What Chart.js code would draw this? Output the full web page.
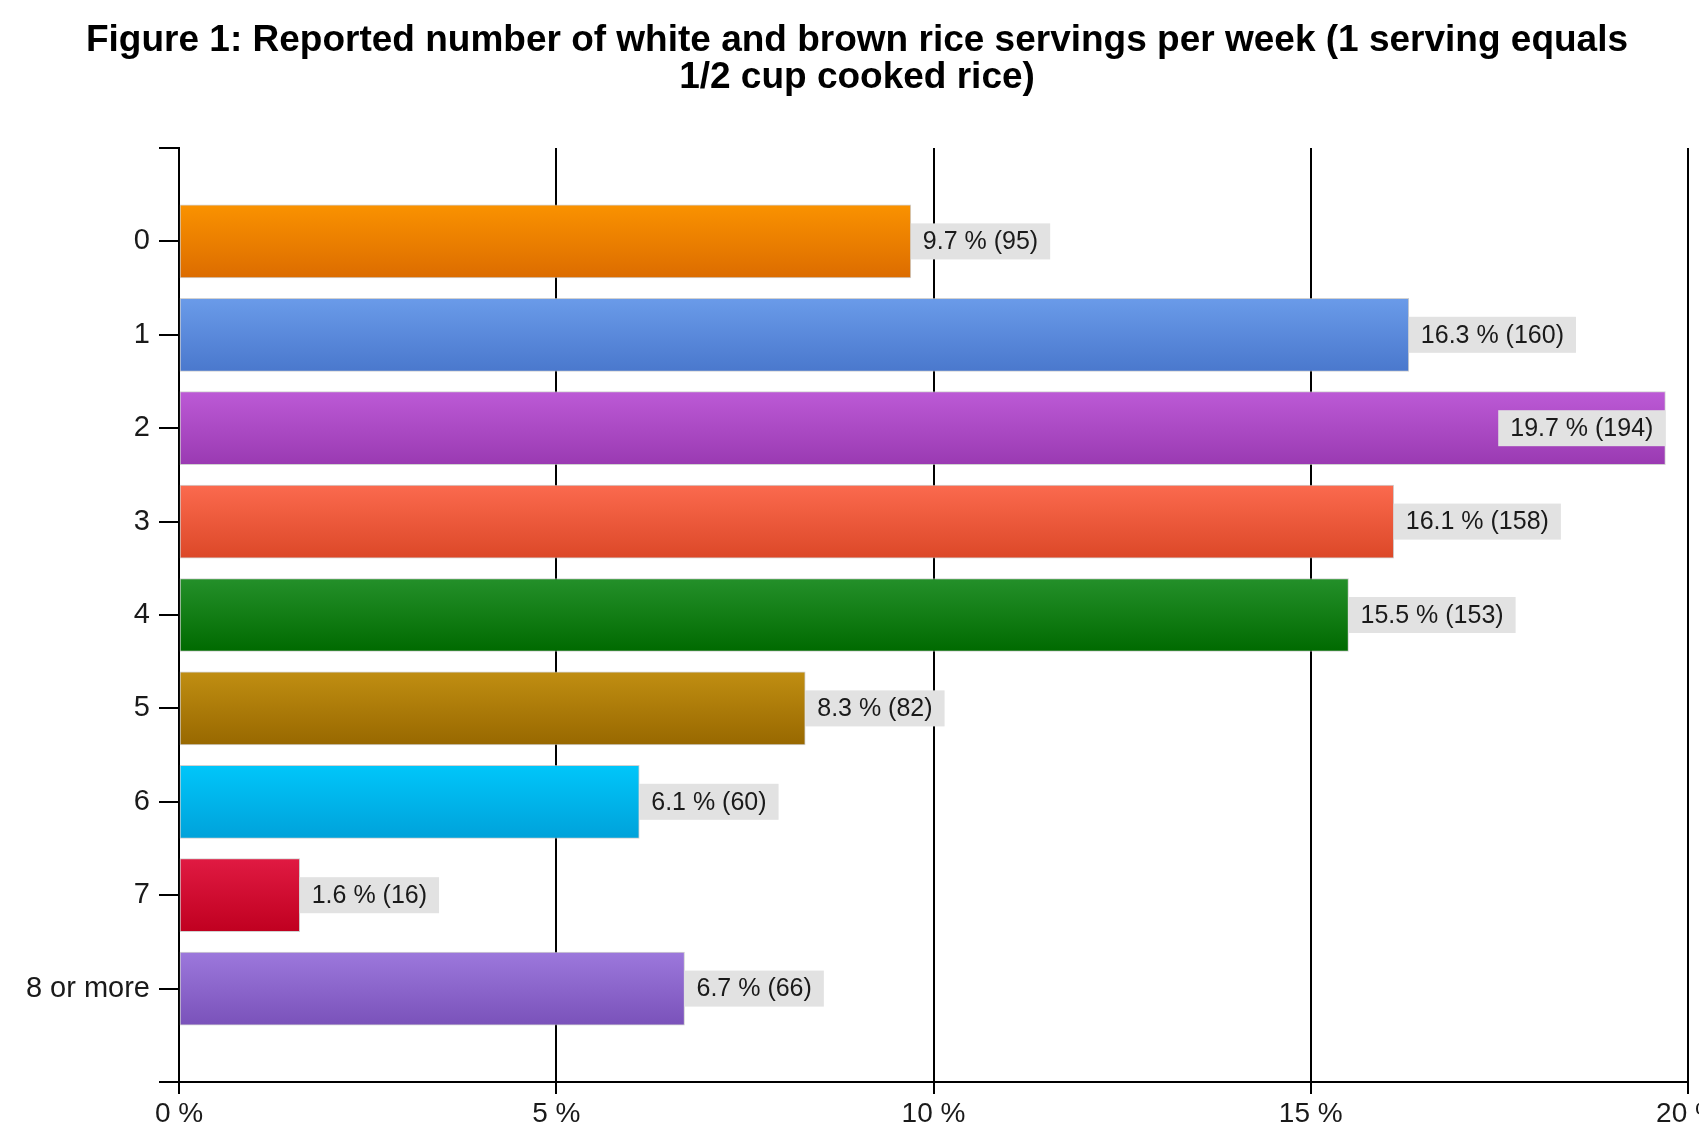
<!DOCTYPE html>
<html>
<head>
<meta charset="utf-8">
<script src="https://cdn.jsdelivr.net/npm/chart.js"></script>
<style>
  html, body { margin: 0; padding: 0; background: #fff; overflow: hidden; }
  #wrap { width: 1760px; height: 1142px; position: relative; }
</style>
</head>
<body>
<div id="wrap"><canvas id="chart"></canvas></div>
<script>
// categories (blank entries pad the axis above and below the bars)
const categories = ['', '0', '1', '2', '3', '4', '5', '6', '7', '8 or more', ''];
const percents = [null, 9.7, 16.3, 19.7, 16.1, 15.5, 8.3, 6.1, 1.6, 6.7, null];
const counts = [null, 95, 160, 194, 158, 153, 82, 60, 16, 66, null];
const xTicks = [0, 5, 10, 15, 20];
const titleLines = [
  'Figure 1: Reported number of white and brown rice servings per week (1 serving equals',
  '1/2 cup cooked rice)'
];

// top / bottom colour of each bar's gradient
const topColors = [null, '#fa9200', '#6a9be9', '#bc5ad6', '#fb6a4e', '#24902a', '#c08e12', '#00c6fa', '#e01a42', '#9c78dc', null];
const bottomColors = [null, '#dc6c00', '#4a78cd', '#9a3ab2', '#dc4828', '#006a00', '#986800', '#00a2da', '#c00020', '#7a52ba', null];

const FONT = "'Liberation Sans', Arial, sans-serif";
const BAR_H = 73;

function barFill(ctx) {
  const i = ctx.dataIndex;
  const chart = ctx.chart;
  const y = chart.scales && chart.scales.y;
  if (!topColors[i]) return 'transparent';
  if (!chart.chartArea || !y) return topColors[i];
  const yc = y.getPixelForValue(i);
  const g = chart.ctx.createLinearGradient(0, yc - BAR_H / 2, 0, yc + BAR_H / 2);
  g.addColorStop(0, topColors[i]);
  g.addColorStop(1, bottomColors[i]);
  return g;
}

// grey value boxes next to (or inside the end of) each bar
const valueLabels = {
  id: 'valueLabels',
  afterDatasetsDraw(chart) {
    const ctx = chart.ctx;
    const meta = chart.getDatasetMeta(0);
    ctx.save();
    ctx.font = '25px ' + FONT;
    ctx.textBaseline = 'middle';
    meta.data.forEach((bar, i) => {
      if (percents[i] == null) return;
      const text = percents[i].toFixed(1) + ' % (' + counts[i] + ')';
      const tw = ctx.measureText(text).width;
      const bw = tw + 24, bh = 36;
      let bx = bar.x;
      if (bx + bw > chart.chartArea.right) bx = bar.x - bw;
      ctx.fillStyle = '#e2e2e2';
      ctx.fillRect(bx, bar.y - bh / 2, bw, bh);
      ctx.fillStyle = '#1a1a1a';
      ctx.fillText(text, bx + 12, bar.y + 1);
    });
    ctx.restore();
  }
};

new Chart(document.getElementById('chart'), {
  type: 'bar',
  data: {
    labels: categories,
    datasets: [{
      data: percents,
      backgroundColor: barFill,
      borderColor: 'rgba(190,190,190,0.7)',
      borderWidth: 1,
      borderSkipped: false,
      barThickness: BAR_H
    }]
  },
  options: {
    indexAxis: 'y',
    responsive: true,
    maintainAspectRatio: false,
    animation: false,
    layout: { padding: { left: 26, right: 72, top: 0, bottom: 0 } },
    plugins: {
      legend: { display: false },
      tooltip: { enabled: false },
      title: {
        display: true,
        text: titleLines,
        color: '#000',
        font: { family: FONT, size: 37, weight: 'bold', lineHeight: 1.0 },
        padding: { top: 22, bottom: 52 }
      }
    },
    scales: {
      x: {
        type: 'linear',
        min: 0,
        max: 20,
        afterBuildTicks: s => { s.ticks = xTicks.map(v => ({ value: v })); },
        afterFit: s => { s.height = 60; },
        ticks: {
          callback: v => v + ' %',
          color: '#1a1a1a',
          font: { family: FONT, size: 28 },
          padding: 3,
          maxRotation: 0
        },
        grid: { color: '#000', lineWidth: 2, tickLength: 12 },
        border: { color: '#000', width: 2 }
      },
      y: {
        type: 'category',
        offset: false,
        afterFit: s => { s.width = 153; },
        ticks: {
          color: '#1a1a1a',
          font: { family: FONT, size: 29 },
          padding: 9,
          autoSkip: false
        },
        grid: { offset: false, drawOnChartArea: false, color: '#000', lineWidth: 2, tickLength: 20 },
        border: { color: '#000', width: 2 }
      }
    }
  },
  plugins: [valueLabels]
});
</script>
</body>
</html>
